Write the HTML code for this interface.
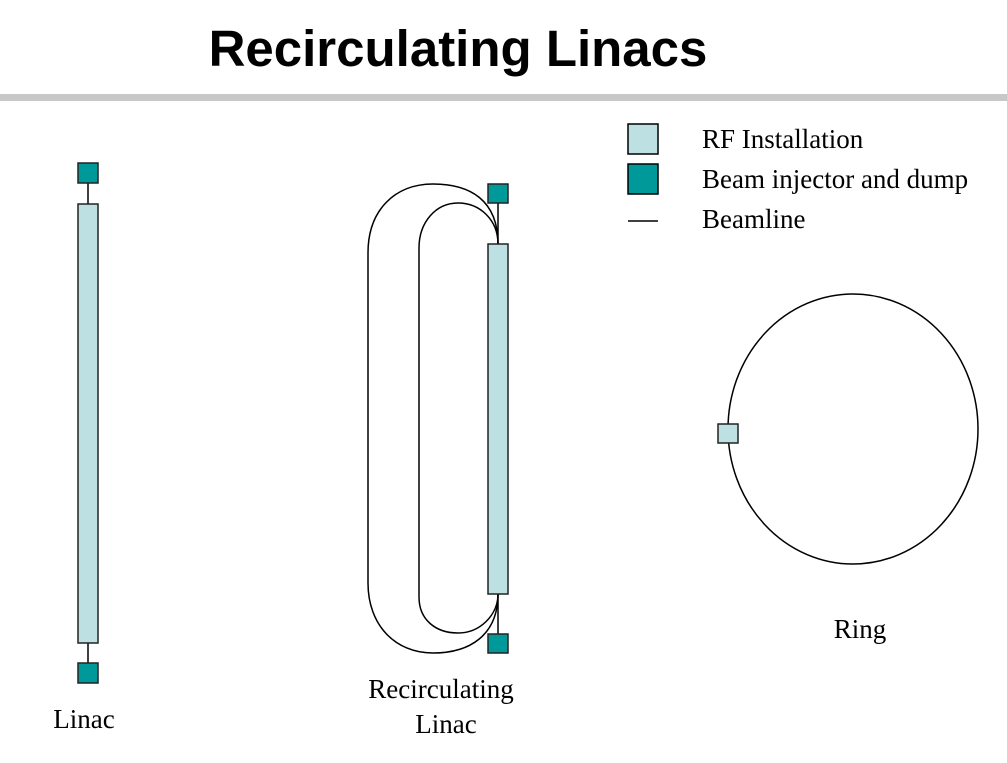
<!DOCTYPE html>
<html><head><style>
body{margin:0;background:#fff;width:1007px;height:758px;overflow:hidden}
</style></head><body>
<svg width="1007" height="758" xmlns="http://www.w3.org/2000/svg">
<text x="458" y="66" text-anchor="middle" font-family="Liberation Sans, sans-serif" font-weight="bold" font-size="51">Recirculating Linacs</text>
<rect x="0" y="94" width="1007" height="7" fill="#c8c8c8"/>
<g stroke="#000" stroke-width="1.5">
<rect x="628" y="124" width="30" height="30" fill="#bde0e3"/>
<rect x="628" y="164" width="30" height="30" fill="#009999"/>
<line x1="628" y1="221" x2="658" y2="221"/>
</g>
<g font-family="Liberation Serif, serif" font-size="27" fill="#000">
<text x="702" y="148">RF Installation</text>
<text x="702" y="188">Beam injector and dump</text>
<text x="702" y="228">Beamline</text>
<text x="84" y="728" text-anchor="middle">Linac</text>
<text x="441" y="698" text-anchor="middle">Recirculating</text>
<text x="446" y="733" text-anchor="middle">Linac</text>
<text x="860" y="638" text-anchor="middle">Ring</text>
</g>
<g stroke="#000" stroke-width="1.5" fill="none">
<line x1="88" y1="183" x2="88" y2="663"/>
<line x1="498" y1="203" x2="498" y2="634"/>
<path d="M498,244 C498,200 470,184 433,184 C395,184 368,210 368,253 V583 C368,625 395,653 433,653 C470,653 498,635 498,594"/>
<path d="M498,244 C498,220 480,203 458,203 C436,203 419,222 419,248 V597 C419,620 436,633 458,633 C480,633 498,615 498,594"/>
<ellipse cx="853" cy="429" rx="125" ry="135"/>
</g>
<g stroke="#222" stroke-width="1.5">
<rect x="78" y="204" width="20" height="439" fill="#bde0e3"/>
<rect x="78" y="163" width="20" height="20" fill="#009999"/>
<rect x="78" y="663" width="20" height="20" fill="#009999"/>
<rect x="488" y="244" width="20" height="350" fill="#bde0e3"/>
<rect x="488" y="184" width="20" height="19" fill="#009999"/>
<rect x="488" y="634" width="20" height="19" fill="#009999"/>
<rect x="718" y="424" width="20" height="19" fill="#bde0e3"/>
</g>
</svg>
</body></html>
